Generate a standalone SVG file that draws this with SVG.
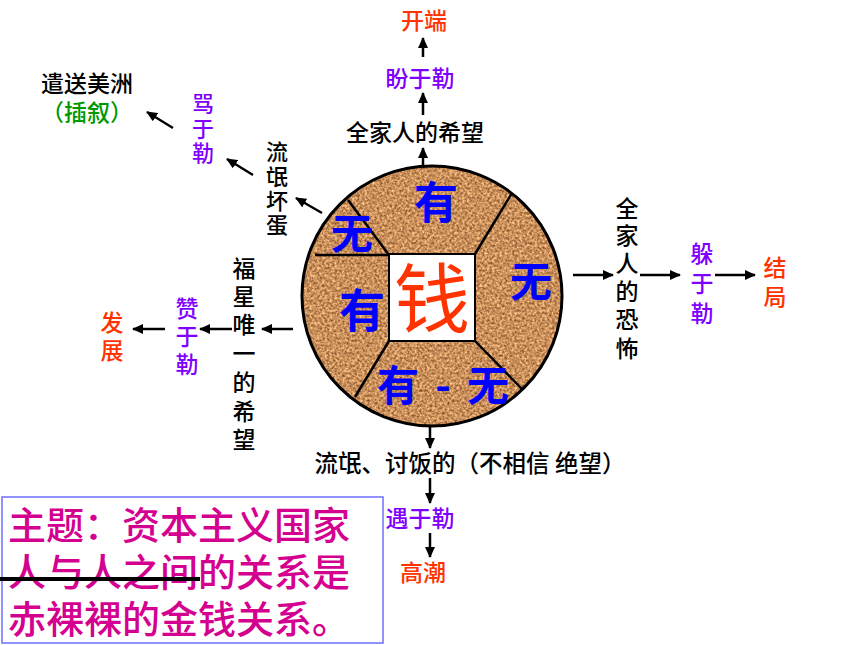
<svg xmlns="http://www.w3.org/2000/svg" width="860" height="645" viewBox="0 0 860 645">
<defs>
<style>
text{font-family:"Noto Sans CJK SC","Liberation Sans",sans-serif;dominant-baseline:central;}
.lbl{font-size:23px;font-weight:500;fill:#000;text-anchor:middle;}
.pur{font-size:23px;font-weight:500;fill:#8000ff;text-anchor:middle;}
.red{font-size:23px;font-weight:500;fill:#ff3300;text-anchor:middle;}
.grn{font-size:23px;font-weight:500;fill:#009900;text-anchor:middle;}
.blu{font-weight:bold;fill:#0000ff;text-anchor:middle;}
.theme{font-size:38px;font-weight:500;fill:#d4008f;}
.arr{stroke:#000;stroke-width:2.5;fill:none;marker-end:url(#ah);}
.seg{stroke:#000;stroke-width:2.5;fill:none;}
</style>
<marker id="ah" markerUnits="userSpaceOnUse" markerWidth="11" markerHeight="10" refX="10" refY="5" orient="auto">
<path d="M0,0 L11,5 L0,10 z" fill="#000"/>
</marker>
<filter id="cork" x="0" y="0" width="100%" height="100%" color-interpolation-filters="sRGB">
<feTurbulence type="fractalNoise" baseFrequency="0.4" numOctaves="3" seed="7" result="n"/>
<feColorMatrix in="n" type="matrix" values="0.8 0 0 0 0.39  0.75 0 0 0 0.19  0.6 0 0 0 0.06  0 0 0 0 1" result="col"/>
<feComposite in="col" in2="SourceGraphic" operator="in"/>
</filter>
</defs>
<rect width="860" height="645" fill="#fff"/>

<g id="center-wheel">
<circle cx="432" cy="296" r="130" fill="#c8915c" filter="url(#cork)"/>
<circle cx="432" cy="296" r="130" fill="none" stroke="#000" stroke-width="3"/>
<line class="seg" x1="475" y1="254" x2="512" y2="193"/>
<line class="seg" x1="475" y1="341" x2="523" y2="390"/>
<line class="seg" x1="389" y1="341" x2="355" y2="397"/>
<line class="seg" x1="315" y1="255" x2="389" y2="255"/>
<line class="seg" x1="348" y1="200" x2="389" y2="255"/>
<rect x="389" y="254" width="86" height="87" fill="#fff" stroke="#000" stroke-width="2"/>
<text x="432" y="294" style="font-size:76px;fill:#ff3300;text-anchor:middle;">钱</text>
<text class="blu" x="436" y="200" style="font-size:44px;">有</text>
<text class="blu" x="352" y="230" style="font-size:42px;">无</text>
<text class="blu" x="531" y="278" style="font-size:42px;">无</text>
<text class="blu" x="362" y="307" style="font-size:46px;">有</text>
<text class="blu" x="443" y="382" style="font-size:42px;" textLength="132" lengthAdjust="spacing">有 - 无</text>
</g>

<g id="connectors">
<line class="arr" x1="423" y1="166" x2="423" y2="148"/>
<line class="arr" x1="423" y1="115" x2="423" y2="93"/>
<line class="arr" x1="423" y1="57" x2="423" y2="38"/>
<line class="arr" x1="173" y1="128" x2="147" y2="112"/>
<line class="arr" x1="253" y1="175" x2="227" y2="159"/>
<line class="arr" x1="322" y1="213" x2="296" y2="198"/>
<line class="arr" x1="293" y1="329" x2="262" y2="329"/>
<line class="arr" x1="232" y1="329" x2="200" y2="329"/>
<line class="arr" x1="165" y1="329" x2="133" y2="329"/>
<line class="arr" x1="573" y1="275" x2="613" y2="275"/>
<line class="arr" x1="640" y1="275" x2="680" y2="275"/>
<line class="arr" x1="715" y1="275" x2="755" y2="275"/>
<line class="arr" x1="430" y1="425" x2="430" y2="448"/>
<line class="arr" x1="430" y1="478" x2="430" y2="503"/>
<line class="arr" x1="430" y1="533" x2="430" y2="557"/>
</g>

<g id="top-chain">
<text class="red" x="424" y="19">开端</text>
<text class="pur" x="420" y="77">盼于勒</text>
<text class="lbl" x="415" y="131">全家人的希望</text>
</g>

<g id="upper-left-chain">
<text class="lbl" x="87" y="82">遣送美洲</text>
<text class="grn" x="87" y="111">（插叙）</text>
<text class="pur" style="font-size:22px;"><tspan x="203" y="102">骂</tspan><tspan x="203" y="127">于</tspan><tspan x="203" y="151">勒</tspan></text>
<text class="lbl" style="font-size:22px;"><tspan x="277" y="150">流</tspan><tspan x="277" y="175">氓</tspan><tspan x="277" y="199">坏</tspan><tspan x="277" y="223">蛋</tspan></text>
</g>

<g id="left-chain">
<text class="lbl"><tspan x="244" y="267">福</tspan><tspan x="244" y="295">星</tspan><tspan x="244" y="323">唯</tspan><tspan x="244" y="352">一</tspan><tspan x="244" y="381">的</tspan><tspan x="244" y="410">希</tspan><tspan x="244" y="438">望</tspan></text>
<text class="pur"><tspan x="187" y="307">赞</tspan><tspan x="187" y="335">于</tspan><tspan x="187" y="363">勒</tspan></text>
<text class="red"><tspan x="112" y="321">发</tspan><tspan x="112" y="349">展</tspan></text>
</g>

<g id="right-chain">
<text class="lbl"><tspan x="627" y="207">全</tspan><tspan x="627" y="234">家</tspan><tspan x="627" y="262">人</tspan><tspan x="627" y="290">的</tspan><tspan x="627" y="318">恐</tspan><tspan x="627" y="347">怖</tspan></text>
<text class="pur"><tspan x="702" y="252">躲</tspan><tspan x="702" y="282">于</tspan><tspan x="702" y="312">勒</tspan></text>
<text class="red"><tspan x="775" y="266">结</tspan><tspan x="775" y="295">局</tspan></text>
</g>

<g id="bottom-chain">
<text class="lbl" x="470" y="462" style="font-size:23.5px;">流氓、讨饭的（不相信 绝望）</text>
<text class="pur" x="420" y="517">遇于勒</text>
<text class="red" x="423" y="571">高潮</text>
</g>

<g id="theme-box">
<rect x="2" y="497" width="381" height="146" fill="#fff" stroke="#6f6fff" stroke-width="1.5"/>
<text class="theme" x="8" y="522">主题：资本主义国家</text>
<text class="theme" x="8" y="569">人与人之间的关系是</text>
<text class="theme" x="8" y="616">赤裸裸的金钱关系。</text>
<line x1="0" y1="579" x2="200" y2="579" stroke="#000" stroke-width="4"/>
</g>
</svg>
